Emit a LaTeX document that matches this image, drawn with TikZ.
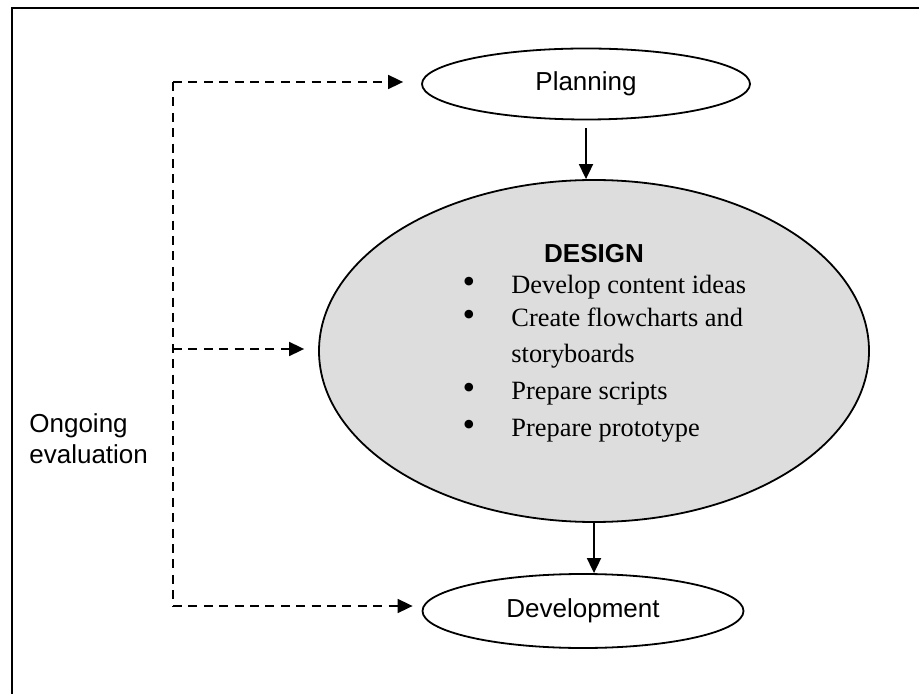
\documentclass[tikz,border=0pt]{standalone}
\usepackage{fontspec}
\setmainfont{Liberation Serif}
\setsansfont{Liberation Sans}
\usetikzlibrary{arrows.meta, positioning, shapes.geometric}

\definecolor{designgray}{RGB}{221,221,221}

\tikzset{
  stage/.style={ellipse, draw, line width=0.9pt, inner sep=0pt,
    font=\sffamily\fontsize{13}{15.5}\selectfont},
  flow/.style={-{Triangle[length=7.5pt,width=7pt]}, line width=0.9pt},
  evalline/.style={dash pattern=on 4.5pt off 3.2pt, line width=0.85pt},
  item/.style={anchor=base west, inner sep=0pt, font=\fontsize{13.2}{15}\selectfont},
  dot/.style={anchor=base, inner sep=0pt, font=\fontsize{18}{15}\selectfont},
}

\begin{document}
\begin{tikzpicture}[x=0.5pt, y=-0.5pt]
\useasboundingbox (0,0) rectangle (919,694);
% frame
\draw[line width=1pt] (12,694) -- (12,8) -- (919,8);

% stages
\node[stage, minimum width=164pt, minimum height=35.5pt] (planning) at (586,84) {Planning};
\node[stage, fill=designgray, minimum width=275pt, minimum height=171pt] (design) at (594,351) {};
\node[stage, minimum width=160.5pt, minimum height=37pt] (development) at (583,611) {Development};

% design contents
\node[anchor=base, inner sep=0pt, font=\sffamily\bfseries\fontsize{13}{15}\selectfont] (designtitle) at (594,263) {DESIGN};
\node[dot] (dotideas) at (469,294) {\textbullet};
\node[item] (ideas) at (511,294) {Develop content ideas};
\node[dot] (dotflow) at (469,327) {\textbullet};
\node[item] (flowcharts) at (511,327) {Create flowcharts and};
\node[item] (storyboards) at (511,363) {storyboards};
\node[dot] (dotscripts) at (469,400) {\textbullet};
\node[item] (scripts) at (511,400) {Prepare scripts};
\node[dot] (dotproto) at (469,436) {\textbullet};
\node[item] (prototype) at (511,436) {Prepare prototype};

% main flow
\draw[flow] ([yshift=-4pt]planning.south) -- (planning.south |- design.north);
\draw[flow] (design.south) -- (design.south |- development.north);

% ongoing evaluation
\node[anchor=base west, align=left, inner sep=0pt,
  font=\sffamily\fontsize{13}{15.5}\selectfont] (ongoing) at (29,463) {Ongoing\\evaluation};
\coordinate (evaltop) at (173,82);
\coordinate (evalmid) at (173,349);
\coordinate (evalbot) at (173,606);
\draw[evalline] (evaltop) -- (evalbot);
\draw[flow, evalline, shorten >=9pt] (evaltop) -- (evaltop -| planning.west);
\draw[flow, evalline, shorten >=7pt] (evalmid) -- (evalmid -| design.west);
\draw[flow, evalline, shorten >=4.5pt] (evalbot) -- (evalbot -| development.west);
\end{tikzpicture}
\end{document}
